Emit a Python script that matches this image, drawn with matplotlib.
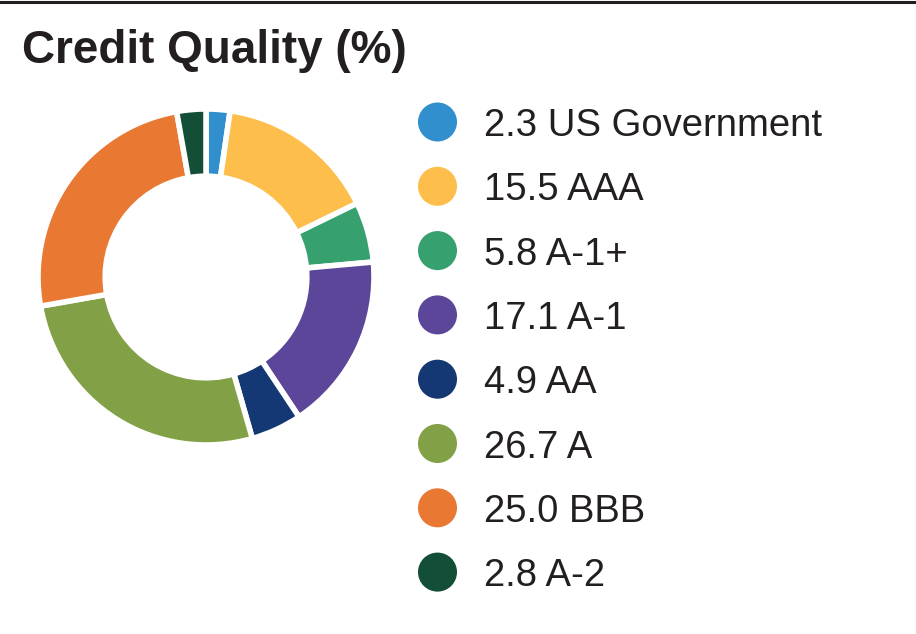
import matplotlib.pyplot as plt
from matplotlib.lines import Line2D

# Credit quality breakdown (%)
ratings = ["US Government", "AAA", "A-1+", "A-1", "AA", "A", "BBB", "A-2"]
shares = [2.3, 15.5, 5.8, 17.1, 4.9, 26.7, 25.0, 2.8]
colors = ["#318FCE", "#FDBE4C", "#36A16F", "#5C4699",
          "#143873", "#82A147", "#E97833", "#124F36"]

W, H = 916, 634
fig = plt.figure(figsize=(W / 100, H / 100), dpi=100)
plt.rcParams["font.family"] = ["Liberation Sans", "DejaVu Sans"]

# top rule
fig.add_artist(Line2D([0, 1], [1 - 1.5 / H, 1 - 1.5 / H], color="#231F20", lw=2.2))

fig.text(22 / W, 1 - 63 / H, "Credit Quality (%)", fontsize=33, fontweight="bold",
         color="#231F20", va="baseline", ha="left")

# donut
cx, cy, r = 206, 277, 168
ax = fig.add_axes([(cx - r) / W, (H - cy - r) / H, 2 * r / W, 2 * r / H])
ax.pie(shares, colors=colors, startangle=90, counterclock=False,
       wedgeprops=dict(width=0.4, edgecolor="white", linewidth=4))
ax.set_aspect("equal")
ax.set_xlim(-1, 1)
ax.set_ylim(-1, 1)

# legend
lg = fig.add_axes([0, 0, 1, 1])
lg.set_xlim(0, W)
lg.set_ylim(H, 0)
lg.axis("off")
y0, step = 122, 64.3
for i, (name, v, c) in enumerate(zip(ratings, shares, colors)):
    y = y0 + i * step
    lg.scatter([437.5], [y], s=790, color=c, edgecolors="none")
    lg.text(484, y + 14, f"{v:.1f} {name}", fontsize=27.5, color="#231F20",
            va="baseline", ha="left")

fig.savefig("out.png", dpi=100)
